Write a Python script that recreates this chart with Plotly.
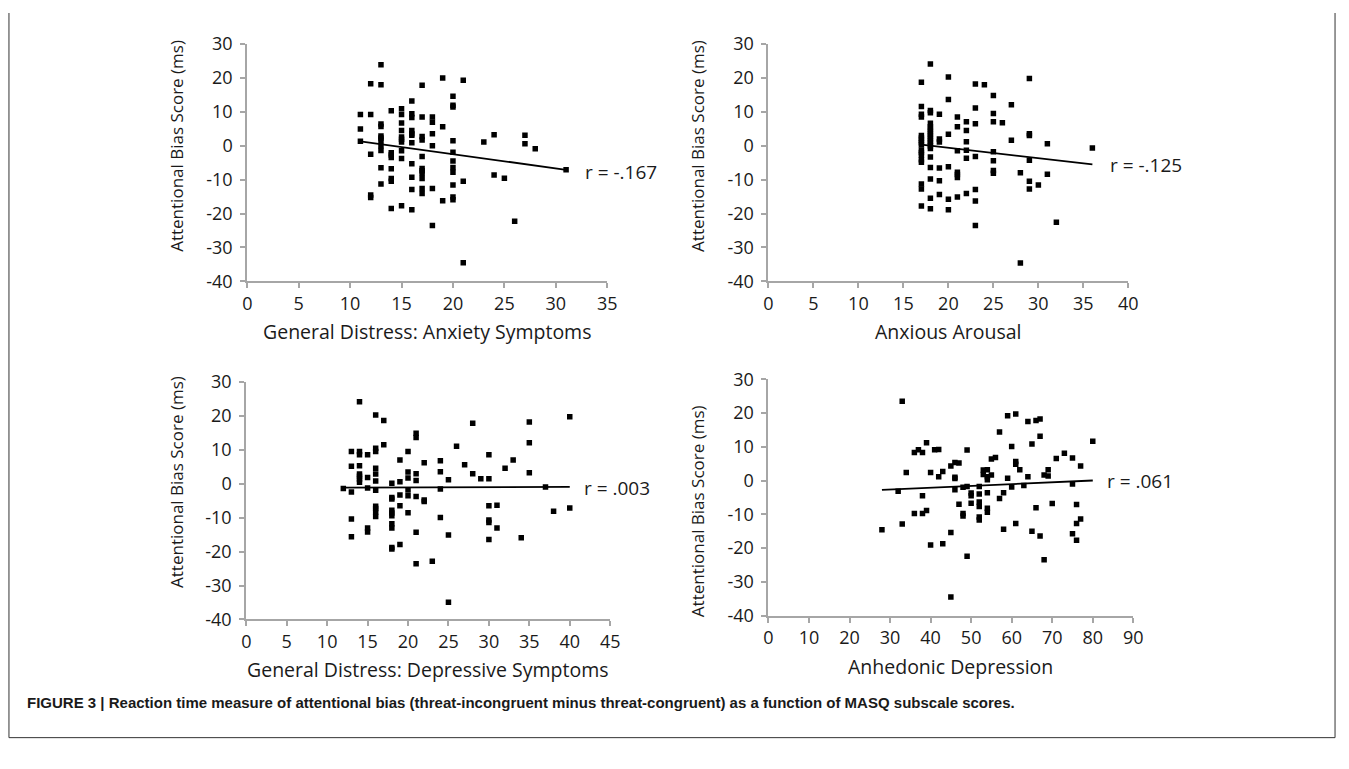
import plotly.graph_objects as go

W, H = 1349, 769

# ---------------- data ----------------
# Panel 1: General Distress: Anxiety Symptoms
gda_x = [11, 11, 11,
         12, 12, 12, 12, 12,
         13, 13, 13, 13, 13, 13, 13, 13, 13, 13, 13,
         14, 14, 14, 14, 14, 14, 14, 14,
         15, 15, 15, 15, 15, 15, 15, 15, 15, 15,
         16, 16, 16, 16, 16, 16, 16, 16, 16, 16, 16,
         17, 17, 17, 17, 17, 17, 17, 17, 17, 17, 17,
         18, 18, 18, 18, 18, 18,
         19, 19, 19,
         20, 20, 20, 20, 20, 20, 20, 20, 20, 20, 20,
         21, 21, 21,
         23, 24, 24, 25, 26, 27, 27, 28, 31]
gda_y = [9.2, 4.9, 1.3,
         9.2, 18.3, -2.5, -14.5, -15.3,
         18.0, 23.9, 6.4, 5.7, 2.9, 2.3, 1.6, 0.0, -1.4, -6.5, -11.3,
         10.3, -2.1, -2.7, -3.5, -6.8, -9.7, -10.5, -18.5,
         10.9, 9.2, 6.7, 4.5, 2.6, 1.9, 1.1, -1.5, -3.8, -17.7,
         13.2, 9.4, 8.3, 4.5, 3.5, 3.1, 0.9, -5.3, -9.3, -12.9, -18.9,
         17.8, 8.5, 2.7, 1.7, -3.2, -6.7, -7.4, -8.1, -9.7, -12.6, -14.1,
         8.5, 6.9, 3.5, 0.0, -12.6, -23.5,
         20.0, 5.6, -16.2,
         14.6, 11.9, 11.4, 1.5, -1.9, -4.5, -6.4, -7.8, -11.6, -15.1, -15.9,
         19.3, -10.5, -34.5,
         1.1, 3.2, -8.6, -9.6, -22.3, 3.1, 0.6, -0.9, -7.1]
gda_fit_x = [11, 31]
gda_fit_y = [1.3, -7.1]
gda_r = "r = -.167"

# Panel 2: Anxious Arousal
aa_x = [17] * 17 + [18] * 19 + [19] * 6 + [20] * 6 + [21] * 7 + [22] * 6 + [23] * 7 + \
       [24] + [25] * 7 + [26] + [27] * 2 + [28] * 2 + [29] * 6 + [30] + [31] * 2 + [32] + [36]
aa_y = [18.7, 11.6, 9.3, 8.5, 3.0, 2.3, 1.6, 0.9, 0.2, -1.3, -2.0, -2.7, -4.1, -4.9, -11.3, -12.8, -17.8,
        24.1, 10.4, 9.7, 6.6, 5.6, 5.0, 4.2, 3.5, 2.8, 2.1, 1.3, 0.7, -0.1, -0.8, -3.3, -6.4, -9.8, -15.5, -18.6,
        9.3, 2.0, 1.1, -6.6, -10.3, -14.4,
        20.3, 13.6, 3.4, -6.2, -15.8, -18.9,
        8.5, 5.6, -1.5, -7.8, -8.5, -9.4, -15.1,
        7.1, 4.5, 1.2, -1.3, -3.7, -14.1,
        18.2, 11.1, 6.5, -3.2, -12.9, -16.3, -23.5,
        18.0,
        14.8, 9.5, 7.1, -1.8, -4.4, -7.3, -8.1,
        6.8,
        12.1, 1.6,
        -8.0, -34.6,
        19.8, 3.5, 3.0, -4.3, -10.5, -12.8,
        -11.6,
        0.6, -8.4,
        -22.6,
        -0.7]
aa_fit_x = [17, 36]
aa_fit_y = [0.3, -5.5]
aa_r = "r = -.125"

# Panel 3: General Distress: Depressive Symptoms
gdd_x = [12, 13, 13, 13, 13, 13,
         14, 14, 14, 14, 14, 14, 14, 14,
         15, 15, 15, 15, 15,
         16, 16, 16, 16, 16, 16, 16, 16, 16, 16, 16,
         17, 17,
         18, 18, 18, 18, 18, 18, 18, 18, 18, 18,
         19, 19, 19, 19, 19,
         20, 20, 20, 20, 20, 20,
         21, 21, 21, 21, 21, 21, 21,
         22, 22, 22, 23,
         24, 24, 24, 24,
         25, 25, 25, 26, 27, 28, 28, 29,
         30, 30, 30, 30, 30, 30,
         31, 31, 32, 33, 34, 35, 35, 35, 37, 38, 40, 40]
gdd_y = [-1.4, 9.5, 5.2, -2.4, -10.4, -15.6,
         24.2, 9.5, 8.6, 5.3, 2.9, 2.2, 1.4, 0.5,
         8.6, 1.9, -1.2, -13.0, -14.2,
         20.3, 10.5, 9.5, 4.6, 2.9, 0.8, -1.9, -6.6, -7.3, -8.3, -9.6,
         18.7, 11.5,
         0.2, -4.0, -4.5, -7.8, -8.6, -9.4, -11.8, -13.0, -18.8, -19.2,
         7.0, 0.6, -3.3, -6.5, -17.9,
         9.5, 3.5, 1.7, -1.8, -3.5, -8.5,
         14.9, 13.7, 3.0, 1.0, -3.7, -14.3, -23.6,
         6.2, -4.8, -5.2, -22.8,
         6.8, 3.6, -1.5, -9.9,
         1.2, -15.1, -34.9, 11.1, 5.6, 17.9, 3.0, 1.5,
         8.6, 1.5, -6.5, -10.7, -11.4, -16.4,
         -6.3, -13.0, 4.6, 7.0, -15.9, 18.2, 12.1, 3.3, -0.9, -8.1, 19.8, -7.1]
gdd_fit_x = [12, 40]
gdd_fit_y = [-1.1, -0.9]
gdd_r = "r = .003"

# Panel 4: Anhedonic Depression
ad_x = [28, 32, 33, 33, 34, 36, 37, 38, 38, 36, 38, 39, 39, 40, 40, 41, 42, 42, 43, 43,
        45, 45, 45, 46, 46, 46, 46, 47, 47, 48, 48, 48, 49, 49, 49, 50, 50, 50,
        52, 52, 52, 52, 52, 52, 53, 53, 54, 54, 54, 54, 54, 54, 55, 55, 56, 57, 57,
        58, 58, 59, 59, 60, 60, 61, 61, 61, 61, 62, 63, 64, 64, 65, 65, 66, 67, 67,
        67, 66, 68, 68, 69, 69, 70, 71, 73, 75, 75, 75, 76, 76, 76, 77, 77, 80]
ad_y = [-14.6, -3.2, 23.5, -12.9, 2.4, 8.3, 9.1, 8.3, -4.5, -9.8, -9.8, 11.2, -8.9, 2.4, -19.1,
        9.1, 9.2, 1.1, 2.7, -18.7,
        4.3, -15.4, -34.5, 5.3, 1.0, 0.6, -2.7, 5.2, -7.0, -2.0, -9.8, -10.5, 9.0, -1.8, -22.4,
        -3.7, -4.5, -6.7,
        -1.8, -4.0, -6.4, -7.7, -10.8, -11.7, 3.1, 1.8, 3.2, 1.1, 0.2, -3.6, -8.2, -9.4,
        6.4, 1.6, 6.8, 14.4, -5.3,
        -3.6, -14.4, 19.2, 0.7, 10.1, -1.9, 19.7, 5.6, 4.8, -12.7, 3.2, -1.5, 17.5, 1.1,
        10.8, -15.0, 17.8, 18.2, 13.1,
        -16.4, -8.1, 1.6, -23.5, 3.2, 1.3, -6.8, 6.5, 8.1, 6.7, -1.0, -15.8, -7.1, -12.7,
        -17.7, 4.3, -11.4, 11.6]
ad_fit_x = [28, 80]
ad_fit_y = [-2.8, 0.0]
ad_r = "r = .061"

x_titles = ["General Distress: Anxiety Symptoms", "Anxious Arousal",
            "General Distress: Depressive Symptoms", "Anhedonic Depression"]
y_title = "Attentional Bias Score (ms)"
x_ranges = [(0, 35, 5), (0, 40, 5), (0, 45, 5), (0, 90, 10)]
y_tickvals = [-40, -30, -20, -10, 0, 10, 20, 30]
y_ticktext = ["-40", "-30", "-20", "-10", "0", "10", "20", "30"]
caption = ("FIGURE 3 | Reaction time measure of attentional bias (threat-incongruent minus "
           "threat-congruent) as a function of MASQ subscale scores.")

# ---------------- layout helpers ----------------
def px(x):
    return x / W

def py(y):
    return 1 - y / H

# pixel boxes: (left, right, top, bottom)
boxes = [(245, 609, 32, 277), (772, 1136, 32, 277),
         (244, 612, 381, 626), (772, 1141, 378, 622)]
ytitle_pos = [(174, 137), (701, 137), (174, 484), (701, 514)]
xtitle_pos = [(427, 329), (954, 329), (428, 678), (956, 675)]
r_pos = [(585, 164), (1115, 157), (583, 490), (1112, 483)]

panels = [(gda_x, gda_y, gda_fit_x, gda_fit_y, gda_r),
          (aa_x, aa_y, aa_fit_x, aa_fit_y, aa_r),
          (gdd_x, gdd_y, gdd_fit_x, gdd_fit_y, gdd_r),
          (ad_x, ad_y, ad_fit_x, ad_fit_y, ad_r)]

FONT = "Open Sans, Noto Sans, sans-serif"
AXCOL = "#a6a6a6"
TXT = "#1a1a1a"

fig = go.Figure()
annotations = []
layout = {}
for i, (xs, ys, fx, fy, rtxt) in enumerate(panels):
    n = "" if i == 0 else str(i + 1)
    xa, ya = "x" + n, "y" + n
    fig.add_trace(go.Scatter(x=xs, y=ys, mode="markers", xaxis=xa, yaxis=ya,
                             marker=dict(symbol="square", size=5.5, color="black",
                                         line=dict(width=0)),
                             showlegend=False, hoverinfo="x+y"))
    fig.add_trace(go.Scatter(x=fx, y=fy, mode="lines", xaxis=xa, yaxis=ya,
                             line=dict(color="black", width=1.8),
                             showlegend=False, hoverinfo="skip"))
    l, r, t, b = boxes[i]
    x0, x1, xd = x_ranges[i]
    layout["xaxis" + n] = dict(
        domain=[px(l), px(r)], range=[x0, x1], anchor=ya, dtick=xd, tick0=0,
        showline=True, linecolor=AXCOL, linewidth=2, ticks="outside", ticklen=5,
        tickcolor=AXCOL, tickwidth=1.5, showgrid=False, zeroline=False,
        tickfont=dict(family=FONT, size=18, color=TXT), fixedrange=True)
    layout["yaxis" + n] = dict(
        domain=[py(b), py(t)], range=[y_tickvals[0], y_tickvals[-1]], anchor=xa,
        tickmode="array", tickvals=y_tickvals, ticktext=y_ticktext,
        showline=True, linecolor=AXCOL, linewidth=2, ticks="outside", ticklen=5,
        tickcolor=AXCOL, tickwidth=1.5, showgrid=False, zeroline=False,
        tickfont=dict(family=FONT, size=18, color=TXT), ticklabelstandoff=4,
        fixedrange=True)
    tx, ty = ytitle_pos[i]
    annotations.append(dict(text=y_title, x=px(tx), y=py(ty), xref="paper", yref="paper",
                            textangle=-90, showarrow=False, xanchor="center", yanchor="middle",
                            font=dict(family=FONT, size=17, color=TXT)))
    tx, ty = xtitle_pos[i]
    annotations.append(dict(text=x_titles[i], x=px(tx), y=py(ty), xref="paper", yref="paper",
                            showarrow=False, xanchor="center", yanchor="middle",
                            font=dict(family=FONT, size=19.5, color=TXT)))
    tx, ty = r_pos[i]
    annotations.append(dict(text=rtxt, x=px(tx), y=py(ty), xref="paper", yref="paper",
                            showarrow=False, xanchor="left", yanchor="middle",
                            font=dict(family=FONT, size=19, color=TXT)))

annotations.append(dict(text="<b>" + caption + "</b>", x=px(20), y=py(712),
                        xref="paper", yref="paper", showarrow=False,
                        xanchor="left", yanchor="middle",
                        font=dict(family="Liberation Sans Narrow, Liberation Sans, Arial",
                                  size=15, color=TXT)))

shapes = [
    dict(type="line", xref="paper", yref="paper", x0=px(4), x1=px(4), y0=py(0), y1=py(748),
         line=dict(color="#333", width=1)),
    dict(type="line", xref="paper", yref="paper", x0=px(1345), x1=px(1345), y0=py(0), y1=py(748),
         line=dict(color="#333", width=1)),
    dict(type="line", xref="paper", yref="paper", x0=px(4), x1=px(1345), y0=py(748), y1=py(748),
         line=dict(color="#333", width=1)),
]

fig.update_layout(width=W, height=H, margin=dict(l=0, r=0, t=0, b=0),
                  paper_bgcolor="white", plot_bgcolor="white",
                  annotations=annotations, shapes=shapes, **layout)

fig.write_html("out.html", config={"displayModeBar": False},
               post_script="document.body.style.margin='0';document.body.style.overflow='hidden';")
